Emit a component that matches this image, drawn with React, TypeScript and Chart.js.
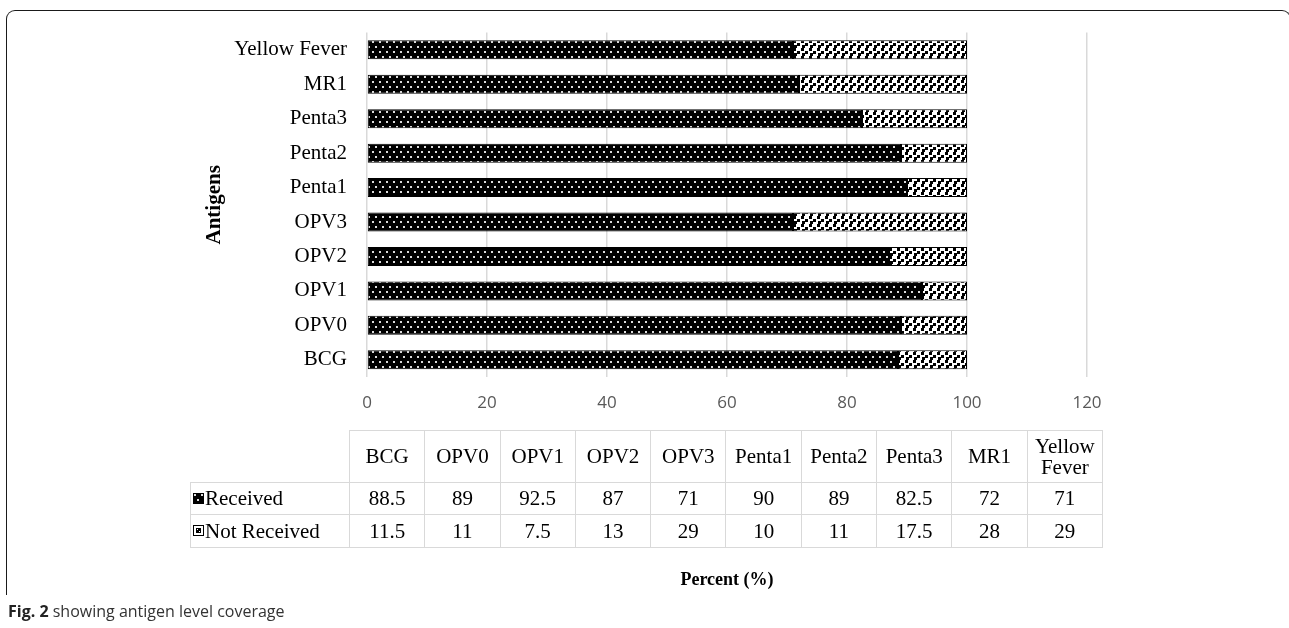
import React, { useEffect, useMemo, useRef } from "react";
import { Chart, registerables } from "chart.js";

Chart.register(...registerables);

// ---- data ----
const categories = ["BCG", "OPV0", "OPV1", "OPV2", "OPV3", "Penta1", "Penta2", "Penta3", "MR1", "Yellow Fever"];
const received = [88.5, 89, 92.5, 87, 71, 90, 89, 82.5, 72, 71];
const notReceived = [11.5, 11, 7.5, 13, 29, 10, 11, 17.5, 28, 29];
const seriesNames = ["Received", "Not Received"];
const xMin = 0;
const xMax = 120;
const xStep = 20;
const yTitle = "Antigens";
const xTitle = "Percent (%)";
const captionBold = "Fig. 2";
const captionText = " showing antigen level coverage";

const SERIF = "'Liberation Serif', 'Times New Roman', serif";
const SANS = "'Open Sans', 'Noto Sans', sans-serif";

function makeDotTile(): HTMLCanvasElement {
  const c = document.createElement("canvas");
  c.width = 7;
  c.height = 10;
  const g = c.getContext("2d")!;
  g.fillStyle = "#000";
  g.fillRect(0, 0, 7, 10);
  g.fillStyle = "#dcdcdc";
  g.fillRect(1, 1, 2, 2);
  g.fillRect(4, 6, 2, 2);
  return c;
}

function makeConfettiTile(): HTMLCanvasElement {
  const c = document.createElement("canvas");
  c.width = 8;
  c.height = 8;
  const g = c.getContext("2d")!;
  g.fillStyle = "#fff";
  g.fillRect(0, 0, 8, 8);
  g.fillStyle = "#000";
  g.fillRect(1, 0, 3, 3);
  g.fillRect(5, 3, 3, 3);
  g.fillRect(2, 5, 3, 3);
  return c;
}

function makeIcon(kind: number): string {
  const c = document.createElement("canvas");
  c.width = 11;
  c.height = 11;
  const g = c.getContext("2d")!;
  const tile = kind === 0 ? makeDotTile() : makeConfettiTile();
  const p = g.createPattern(tile, "repeat")!;
  g.fillStyle = kind === 0 ? p : "#fff";
  g.fillRect(0, 0, 11, 11);
  if (kind === 1) {
    g.fillStyle = "#000";
    g.fillRect(3, 3, 5, 5);
    g.fillStyle = "#fff";
    g.fillRect(4, 4, 1, 1);
    g.fillRect(6, 6, 1, 1);
  }
  g.strokeStyle = "#000";
  g.lineWidth = 1;
  g.strokeRect(0.5, 0.5, 10, 10);
  return c.toDataURL();
}

export default function App() {
  const canvasRef = useRef<HTMLCanvasElement | null>(null);
  const icons = useMemo(() => [makeIcon(0), makeIcon(1)], []);

  useEffect(() => {
    const canvas = canvasRef.current;
    if (!canvas) return;
    const ctx = canvas.getContext("2d")!;
    const pRecv = ctx.createPattern(makeDotTile(), "repeat")!;
    const pNot = ctx.createPattern(makeConfettiTile(), "repeat")!;

    const chart = new Chart(ctx, {
      type: "bar",
      data: {
        labels: categories,
        datasets: [
          {
            label: seriesNames[0],
            data: received,
            backgroundColor: pRecv as any,
            borderColor: "#000",
            borderWidth: 1,
            borderSkipped: false,
            categoryPercentage: 0.6,
            barPercentage: 0.92,
          },
          {
            label: seriesNames[1],
            data: notReceived,
            backgroundColor: pNot as any,
            borderColor: "#000",
            borderWidth: 1,
            borderSkipped: false,
            categoryPercentage: 0.6,
            barPercentage: 0.92,
          },
        ],
      },
      options: {
        indexAxis: "y",
        responsive: false,
        animation: false,
        layout: { padding: { left: 0, top: 27, right: 202, bottom: 30 } },
        plugins: { legend: { display: false }, tooltip: { enabled: false } },
        scales: {
          x: {
            stacked: true,
            min: xMin,
            max: xMax,
            ticks: {
              stepSize: xStep,
              color: "#595959",
              font: { family: SANS, size: 17 },
              padding: 16,
            },
            grid: { color: "#d9d9d9", lineWidth: 1.5, drawTicks: false },
            border: { display: false },
            title: {
              display: true,
              text: xTitle,
              color: "#000",
              font: { family: SERIF, size: 18, weight: "bold" },
              padding: { top: 0, bottom: 7 },
            },
            afterFit: (s: any) => {
              s.height = 221;
            },
          },
          y: {
            stacked: true,
            reverse: true,
            ticks: {
              color: "#000",
              font: { family: SERIF, size: 21 },
              padding: 20,
            },
            grid: { display: false, drawTicks: false },
            border: { display: false },
            title: {
              display: true,
              text: yTitle,
              color: "#000",
              font: { family: SERIF, size: 21, weight: "bold" },
              padding: { top: 202, bottom: 0 },
            },
            afterFit: (s: any) => {
              s.width = 367;
            },
          },
        },
      },
    });
    return () => chart.destroy();
  }, []);

  const cellBorder = "1.5px solid #d9d9d9";
  const cellStyle: React.CSSProperties = {
    border: cellBorder,
    textAlign: "center",
    padding: 0,
    lineHeight: "21px",
  };

  return (
    <div
      style={{
        position: "fixed",
        left: 0,
        top: 0,
        width: 1289,
        height: 628,
        background: "#fff",
        overflow: "hidden",
      }}
    >
      <canvas ref={canvasRef} width={1289} height={628} style={{ position: "absolute", left: 0, top: 0 }} />
      <table
        style={{
          position: "absolute",
          left: 190,
          top: 430,
          borderCollapse: "collapse",
          tableLayout: "fixed",
          width: 912,
          fontFamily: SERIF,
          fontSize: 21,
          color: "#000",
        }}
      >
        <colgroup>
          <col style={{ width: 159 }} />
          {categories.map((c) => (
            <col key={c} style={{ width: 75.3 }} />
          ))}
        </colgroup>
        <tbody>
          <tr style={{ height: 52 }}>
            <td style={{ border: "none", padding: 0 }} />
            {categories.map((c) => (
              <td key={c} style={cellStyle}>
                {c}
              </td>
            ))}
          </tr>
          {[received, notReceived].map((row, ri) => (
            <tr key={ri} style={{ height: ri === 0 ? 32 : 33 }}>
              <td style={{ ...cellStyle, textAlign: "left", whiteSpace: "nowrap", paddingLeft: 2 }}>
                <img
                  src={icons[ri]}
                  width={11}
                  height={11}
                  style={{ verticalAlign: "middle", marginRight: 1, position: "relative", top: -2 }}
                />
                {seriesNames[ri]}
              </td>
              {row.map((v, i) => (
                <td key={i} style={cellStyle}>
                  {v}
                </td>
              ))}
            </tr>
          ))}
        </tbody>
      </table>
      <div
        style={{
          position: "absolute",
          left: 6,
          top: 10,
          width: 1285,
          height: 585,
          boxSizing: "border-box",
          borderTop: "1.7px solid #1a1a1a",
          borderLeft: "1.7px solid #1a1a1a",
          borderRight: "1.7px solid #1a1a1a",
          borderRadius: "9px 9px 0 0",
          pointerEvents: "none",
        }}
      />
      <div
        style={{
          position: "absolute",
          left: 8,
          top: 600,
          fontFamily: SANS,
          fontSize: 16,
          color: "#333",
          whiteSpace: "nowrap",
          lineHeight: "22px",
        }}
      >
        <b style={{ color: "#222" }}>{captionBold}</b>
        {captionText}
      </div>
    </div>
  );
}
